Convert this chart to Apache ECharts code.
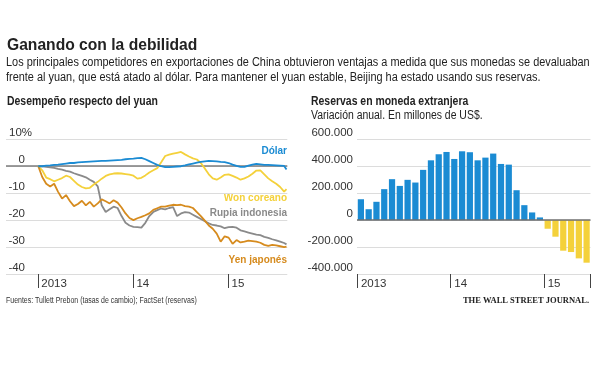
<!DOCTYPE html>
<html>
<head>
<meta charset="utf-8">
<script src="https://cdn.jsdelivr.net/npm/echarts@6/dist/echarts.min.js"></script>
<style>
html,body{margin:0;padding:0;background:#fff;}
#c{width:600px;height:370px;}
</style>
</head>
<body>
<div id="c"></div>
<script>
// ---- Data: performance vs yuan (% change), x = months since Jan 2013 ----
var months = [0,0.5,1,1.5,2,2.5,3,3.5,4,4.5,5,5.5,6,6.5,7,7.5,8,8.5,9,9.5,10,10.5,11,11.5,12,12.5,13,13.5,14,14.5,15,15.5,16,16.5,17,17.5,18,18.5,19,19.5,20,20.5,21,21.5,22,22.5,23,23.5,24,24.5,25,25.5,26,26.5,27,27.5,28,28.5,29,29.5,30,30.5,31,31.3];
var dolar = [0,0,0.2,0.3,0.5,0.6,0.8,1.0,1.2,1.2,1.4,1.5,1.6,1.7,1.8,1.9,2.0,2.0,2.1,2.2,2.3,2.4,2.6,2.7,2.8,3.0,3.1,2.6,1.9,1.2,0.5,0,-0.3,-0.3,-0.2,-0.1,0,0.3,0.7,1.0,1.3,1.6,1.8,2.0,1.9,1.8,1.6,1.5,1.2,0.6,0.1,-0.2,-0.2,0.2,0.6,0.9,0.7,0.5,0.5,0.4,0.3,0.2,0.1,-1.2];
var wonCoreano = [0,-1.5,-4.2,-4.8,-5.6,-5.0,-4.4,-3.5,-4.0,-5.4,-6.8,-7.7,-8.2,-8.0,-6.8,-5.8,-4.6,-3.6,-3.0,-2.7,-2.6,-2.7,-2.9,-3.1,-3.5,-4.6,-4.3,-3.4,-2.3,-1.5,-0.7,1.5,3.8,4.3,4.7,5.0,5.3,4.4,3.6,2.9,2.5,1.2,-0.8,-3.0,-4.5,-5.0,-4.2,-3.2,-3.0,-3.6,-4.2,-5.0,-4.5,-3.8,-2.8,-1.6,-1.5,-3.0,-4.5,-5.6,-6.5,-7.7,-9.4,-8.5];
var rupiaIndonesia = [0,0,-0.2,-0.4,-0.6,-1.0,-1.3,-1.7,-2.0,-2.6,-3.1,-3.6,-4.1,-5.0,-5.8,-7.5,-14.5,-17.0,-16.0,-15.0,-15.5,-18.5,-21.0,-22.0,-22.5,-22.6,-22.8,-21.0,-18.5,-17.0,-16.3,-15.7,-16.0,-15.5,-15.2,-18.5,-17.5,-17.0,-17.2,-18.0,-18.8,-19.6,-20.4,-21.2,-21.8,-22.0,-22.3,-23.0,-22.6,-22.5,-22.8,-23.8,-24.2,-24.6,-25.0,-25.4,-25.6,-26.2,-26.6,-27.1,-27.5,-28.0,-28.5,-29.0];
var yenJapones = [0,-4.0,-6.5,-7.5,-6.5,-9.5,-12.0,-10.7,-13.0,-14.8,-14.0,-12.8,-14.5,-13.2,-15.0,-13.8,-12.3,-13.0,-13.8,-12.6,-13.5,-15.3,-17.5,-19.2,-20.0,-19.3,-18.8,-18.2,-17.5,-16.2,-15.6,-15.0,-15.0,-14.6,-14.3,-14.4,-14.3,-14.8,-15.0,-15.5,-17.0,-18.5,-20.2,-22.0,-23.2,-25.0,-28.0,-26.0,-26.5,-28.8,-27.4,-28.3,-28.0,-27.6,-27.8,-28.0,-28.4,-29.2,-29.6,-29.2,-29.4,-29.7,-30.0,-29.8];
var yearTickMonths = [0,12,24];
var yearTickLabels = ['2013','14','15'];

// ---- Data: foreign reserves, annual change (millions US$), monthly Jan 2013 - Jun 2015 ----
var reserveMonths = ['2013-01','2013-02','2013-03','2013-04','2013-05','2013-06','2013-07','2013-08','2013-09','2013-10','2013-11','2013-12',
  '2014-01','2014-02','2014-03','2014-04','2014-05','2014-06','2014-07','2014-08','2014-09','2014-10','2014-11','2014-12',
  '2015-01','2015-02','2015-03','2015-04','2015-05','2015-06'];
var reserveChange = [155000,81000,136000,230000,304000,254000,299000,279000,373000,444000,489000,506000,
  454000,511000,504000,444000,464000,494000,417000,412000,222000,111000,57000,20000,
  -64000,-123000,-227000,-237000,-284000,-316000];

var leftYTicks = {10:'10%',0:'0{s| }',"-10":'-10{s| }',"-20":'-20{s| }',"-30":'-30{s| }',"-40":'-40{s| }'};

function pairs(xs, ys){ return xs.map(function(x,i){ return [x, ys[i]]; }); }
function fmtThousands(v){
  var s = Math.abs(v).toString().replace(/\B(?=(\d{3})+(?!\d))/g, '.');
  return (v < 0 ? '-' : '') + s;
}

var FONT = '"Liberation Sans",Arial,sans-serif';
var BLUE = '#1b8bd3', YELLOW = '#f4d13b', GRAY = '#8a8a8a', ORANGE = '#d68b1e';

var chart = echarts.init(document.getElementById('c'), null, {renderer:'canvas'});

function lineSeries(name, data, color, z){
  return {
    name: name, type: 'line', xAxisIndex: 0, yAxisIndex: 0,
    data: pairs(months, data), symbol: 'none', smooth: false, z: z,
    lineStyle: {color: color, width: 1.8}, animation: false
  };
}

var gray = lineSeries('Rupia indonesia', rupiaIndonesia, GRAY, 3);
gray.markLine = {
  silent: true, symbol: 'none', label: {show: false},
  lineStyle: {color: '#7c7c7c', width: 1.5, type: 'solid'},
  data: [{yAxis: 0}], z: 1
};

function txt(x, y, s, font, fill, sx, align){
  return {type: 'text', x: x, y: y, scaleX: sx || 1, scaleY: 1,
    style: {text: s, font: font, fill: fill, textAlign: align || 'left', textVerticalAlign: 'middle'}};
}

var option = {
  animation: false,
  textStyle: {fontFamily: FONT},
  grid: [
    {left: 6, top: 139.3, width: 281.3, height: 134.7},
    {left: 357, top: 139.3, width: 233.5, height: 134.7}
  ],
  xAxis: [
    {
      type: 'value', gridIndex: 0, min: -4.07, max: 31.4,
      splitLine: {show: false},
      axisLine: {show: false, onZero: false},
      axisTick: {show: true, customValues: yearTickMonths, length: 14, lineStyle: {color: '#444', width: 1}},
      axisLabel: {
        show: true, customValues: yearTickMonths, align: 'left', margin: 4,
        padding: [0,0,0,3], color: '#333', fontSize: 11.5, fontFamily: FONT,
        formatter: function(v){ var i = yearTickMonths.indexOf(Math.round(v)); return i >= 0 ? yearTickLabels[i] : ''; }
      }
    },
    {
      type: 'category', gridIndex: 1, data: reserveMonths, boundaryGap: true,
      axisLine: {show: false, onZero: false},
      axisTick: {show: true, length: 14, lineStyle: {color: '#444', width: 1},
        interval: function(i){ return i % 12 === 0; }},
      axisLabel: {
        show: true, align: 'left', margin: 4, padding: [0,0,0,0], color: '#333', fontSize: 11.5, fontFamily: FONT,
        interval: function(i){ return i % 12 === 0; },
        formatter: function(v){ var y = v.slice(0,4); return y === '2013' ? '2013' : y.slice(2); }
      }
    }
  ],
  yAxis: [
    {
      type: 'value', gridIndex: 0, min: -40, max: 10, interval: 10,
      axisLine: {show: false}, axisTick: {show: false},
      splitLine: {show: true, lineStyle: {color: '#dcdcdc', width: 1}},
      axisLabel: {
        inside: true, align: 'right', verticalAlign: 'bottom', margin: 26,
        color: '#333', fontSize: 11.5, fontFamily: FONT,
        formatter: function(v){ return leftYTicks[String(v)] || ''; },
        rich: {s: {width: 7, fontSize: 11.5, fontFamily: FONT}}
      }
    },
    {
      type: 'value', gridIndex: 1, min: -400000, max: 600000, interval: 200000,
      axisLine: {show: false}, axisTick: {show: false},
      splitLine: {show: true, lineStyle: {color: '#dcdcdc', width: 1}},
      axisLabel: {
        align: 'right', verticalAlign: 'bottom', margin: 4,
        color: '#333', fontSize: 11.5, fontFamily: FONT,
        formatter: function(v){ return fmtThousands(v); }
      }
    }
  ],
  series: [
    gray,
    lineSeries('Won coreano', wonCoreano, YELLOW, 4),
    lineSeries('Yen japonés', yenJapones, ORANGE, 5),
    lineSeries('Dólar', dolar, BLUE, 6),
    {
      name: 'Reservas', type: 'bar', xAxisIndex: 1, yAxisIndex: 1,
      data: reserveChange, barCategoryGap: '20%',
      itemStyle: {color: function(p){ return p.value >= 0 ? BLUE : YELLOW; }},
      markLine: {
        silent: true, symbol: 'none', label: {show: false},
        lineStyle: {color: '#6f6f6f', width: 1.5, type: 'solid'},
        data: [{yAxis: 0}]
      }
    }
  ],
  graphic: [
    txt(7, 45, 'Ganando con la debilidad', 'bold 17px ' + FONT, '#222', 0.92),
    txt(6, 63, 'Los principales competidores en exportaciones de China obtuvieron ventajas a medida que sus monedas se devaluaban', '12.5px ' + FONT, '#222', 0.874),
    txt(6, 77.5, 'frente al yuan, que está atado al dólar. Para mantener el yuan estable, Beijing ha estado usando sus reservas.', '12.5px ' + FONT, '#222', 0.874),
    txt(7, 102, 'Desempeño respecto del yuan', 'bold 12px ' + FONT, '#222', 0.87),
    txt(311, 102, 'Reservas en moneda extranjera', 'bold 12px ' + FONT, '#222', 0.87),
    txt(311, 115.5, 'Variación anual. En millones de US$.', '12px ' + FONT, '#222', 0.87),
    txt(287, 151, 'Dólar', 'bold 11.5px ' + FONT, BLUE, 0.87, 'right'),
    txt(287, 197.5, 'Won coreano', 'bold 11.5px ' + FONT, YELLOW, 0.87, 'right'),
    txt(287, 212.5, 'Rupia indonesia', 'bold 11.5px ' + FONT, GRAY, 0.87, 'right'),
    txt(287, 260, 'Yen japonés', 'bold 11.5px ' + FONT, ORANGE, 0.87, 'right'),
    txt(6, 301, 'Fuentes: Tullett Prebon (tasas de cambio); FactSet (reservas)', '8.5px ' + FONT, '#333', 0.82),
    txt(589, 301, 'THE WALL STREET JOURNAL.', 'bold 8.5px "Liberation Serif","DejaVu Serif",serif', '#222', 1, 'right')
  ]
};
chart.setOption(option);
</script>
</body>
</html>
